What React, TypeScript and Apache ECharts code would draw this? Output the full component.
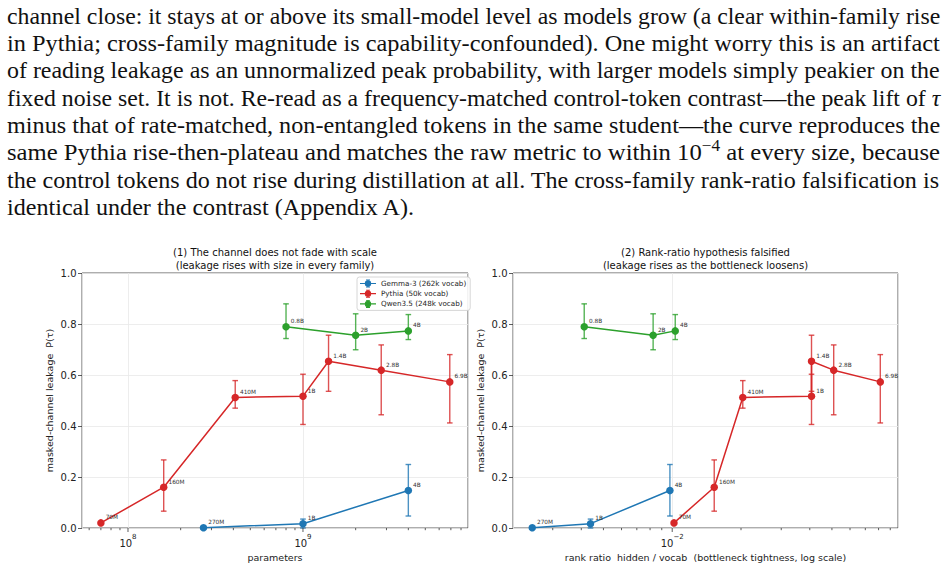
import React, { useEffect, useRef } from 'react';
import * as echarts from 'echarts';

// ---------- paragraph text (segments: n = normal, i = italic, s = superscript) ----------
const paragraphLines: { t: string; k: string }[][] = [
  [{ t: 'channel close: it stays at or above its small-model level as models grow (a clear within-family rise', k: 'n' }],
  [{ t: 'in Pythia; cross-family magnitude is capability-confounded). One might worry this is an artifact', k: 'n' }],
  [{ t: 'of reading leakage as an unnormalized peak probability, with larger models simply peakier on the', k: 'n' }],
  [{ t: 'fixed noise set. It is not. Re-read as a frequency-matched control-token contrast\u2014the peak lift of ', k: 'n' }, { t: '\u03c4', k: 'i' }],
  [{ t: 'minus that of rate-matched, non-entangled tokens in the same student\u2014the curve reproduces the', k: 'n' }],
  [{ t: 'same Pythia rise-then-plateau and matches the raw metric to within 10', k: 'n' }, { t: '\u22124', k: 's' }, { t: ' at every size, because', k: 'n' }],
  [{ t: 'the control tokens do not rise during distillation at all. The cross-family rank-ratio falsification is', k: 'n' }],
  [{ t: 'identical under the contrast (Appendix A).', k: 'n' }],
];

// ---------- chart data ----------
const gemmaName = 'Gemma-3 (262k vocab)';
const pythiaName = 'Pythia (50k vocab)';
const qwenName = 'Qwen3.5 (248k vocab)';

const gemmaSizes = ['270M', '1B', '4B'];
const gemmaParams = [2.7e8, 1.0e9, 4.0e9];
const gemmaRatio = [0.00244, 0.00439, 0.00977];
const gemmaLeak = [0.001, 0.017, 0.147];
const gemmaLo: (number | null)[] = [null, 0.0, 0.047];
const gemmaHi: (number | null)[] = [null, 0.035, 0.249];

const pythiaSizes = ['70M', '160M', '410M', '1B', '1.4B', '2.8B', '6.9B'];
const pythiaParams = [7.0e7, 1.6e8, 4.1e8, 1.0e9, 1.4e9, 2.8e9, 6.9e9];
const pythiaRatio = [0.01018, 0.01527, 0.02036, 0.0407, 0.0407, 0.0509, 0.0814];
const pythiaLeak = [0.02, 0.16, 0.512, 0.517, 0.654, 0.619, 0.573];
const pythiaLo: (number | null)[] = [null, 0.066, 0.47, 0.406, 0.536, 0.444, 0.412];
const pythiaHi: (number | null)[] = [null, 0.267, 0.578, 0.603, 0.756, 0.718, 0.68];

const qwenSizes = ['0.8B', '2B', '4B'];
const qwenParams = [0.8e9, 2.0e9, 4.0e9];
const qwenRatio = [0.00412, 0.00825, 0.01031];
const qwenLeak = [0.789, 0.756, 0.773];
const qwenLo: (number | null)[] = [0.743, 0.699, 0.739];
const qwenHi: (number | null)[] = [0.879, 0.84, 0.837];

// axis ticks (log axes)
const paramsMajorTicks = [1e8, 1e9];
const paramsMinorTicks = [6e7, 7e7, 8e7, 9e7, 2e8, 3e8, 4e8, 5e8, 6e8, 7e8, 8e8, 9e8, 2e9, 3e9, 4e9, 5e9, 6e9, 7e9, 8e9];
const ratioMajorTicks = [1e-2];
const ratioMinorTicks = [3e-3, 4e-3, 5e-3, 6e-3, 7e-3, 8e-3, 9e-3, 2e-2, 3e-2, 4e-2, 5e-2, 6e-2, 7e-2, 8e-2, 9e-2];

const FONT = 'DejaVu Sans';
const SERIF = 'Liberation Serif';
const C_G = '#1f77b4';
const C_P = '#d62728';
const C_Q = '#2ca02c';
const E_G = 'rgba(31,119,180,0.8)';
const E_P = 'rgba(214,39,40,0.8)';
const E_Q = 'rgba(44,160,44,0.8)';

const LEGEND_ICON =
  'path://M0,3.4H16V4.6H0Z M7.4,0H8.6V8H7.4Z M6,0H10V0.8H6Z M6,7.2H10V8H6Z M11.2,4A3.2,3.2 0 1 1 4.8,4A3.2,3.2 0 1 1 11.2,4Z';

function ptData(xs: number[], ys: number[], names: string[]) {
  return xs.map((x, i) => ({ name: names[i], value: [x, ys[i]] }));
}
function errData(xs: number[], lo: (number | null)[], hi: (number | null)[]) {
  const out: number[][] = [];
  xs.forEach((x, i) => {
    if (lo[i] != null && hi[i] != null) out.push([x, lo[i] as number, hi[i] as number]);
  });
  return out;
}
function tickData(major: number[], minor: number[]) {
  return [...major.map((v) => [v, 0, 4]), ...minor.map((v) => [v, 0, 2.2])];
}

const errRender = (color: string) => (params: any, api: any) => {
  const x = api.value(0);
  const a = api.coord([x, api.value(1)]);
  const b = api.coord([x, api.value(2)]);
  const cap = 2.8;
  const style = { stroke: color, lineWidth: 1.4, fill: null };
  return {
    type: 'group',
    children: [
      { type: 'line', shape: { x1: a[0], y1: a[1], x2: b[0], y2: b[1] }, style },
      { type: 'line', shape: { x1: a[0] - cap, y1: a[1], x2: a[0] + cap, y2: a[1] }, style },
      { type: 'line', shape: { x1: b[0] - cap, y1: b[1], x2: b[0] + cap, y2: b[1] }, style },
    ],
  };
};

const tickRender = (params: any, api: any) => {
  const p = api.coord([api.value(0), 0]);
  const len = api.value(2);
  return {
    type: 'line',
    shape: { x1: p[0], y1: p[1], x2: p[0], y2: p[1] + len },
    style: { stroke: '#333', lineWidth: 0.8 },
  };
};

function logLabel(v: number) {
  const e = Math.log10(v);
  const r = Math.round(e);
  if (Math.abs(e - r) > 1e-6) return '';
  const exp = r < 0 ? '\u2212' + Math.abs(r) : String(r);
  return '{b|10}{s|' + exp + '}';
}

const logRich = {
  b: { fontSize: 10, fontFamily: FONT, color: '#222', lineHeight: 15, verticalAlign: 'bottom' },
  s: { fontSize: 7, fontFamily: FONT, color: '#222', lineHeight: 8, verticalAlign: 'top' },
};

function buildOption() {
  // paragraph measurement
  const canvas = document.createElement('canvas');
  const ctx = canvas.getContext('2d') as CanvasRenderingContext2D;
  const PSIZE = 22.6;
  const fontOf = (k: string) =>
    k === 'i' ? `italic ${PSIZE}px "${SERIF}"` : k === 's' ? `${PSIZE * 0.7}px "${SERIF}"` : `${PSIZE}px "${SERIF}"`;
  const LEFT = 7;
  const RIGHT = 940;
  const lineY0 = 14.6;
  const lineStep = 27.3;
  const paragraphGraphics: any[] = [];
  let scaleSum = 0;
  const scales: number[] = [];
  paragraphLines.forEach((segs) => {
    let w = 0;
    segs.forEach((s) => {
      ctx.font = fontOf(s.k);
      w += ctx.measureText(s.t).width;
    });
    scales.push((RIGHT - LEFT) / w);
  });
  for (let i = 0; i < scales.length - 1; i++) scaleSum += scales[i];
  const avgScale = scaleSum / (scales.length - 1);
  paragraphLines.forEach((segs, i) => {
    const text = segs.map((s) => `{${s.k}|${s.t}}`).join('');
    const sx = i === paragraphLines.length - 1 ? avgScale : scales[i];
    paragraphGraphics.push({
      type: 'text',
      x: LEFT,
      y: lineY0 + i * lineStep,
      scaleX: sx,
      silent: true,
      style: {
        text,
        align: 'left',
        verticalAlign: 'middle',
        rich: {
          n: { fontFamily: SERIF, fontSize: PSIZE, fill: '#111', lineHeight: 26, verticalAlign: 'bottom' },
          i: { fontFamily: SERIF, fontSize: PSIZE, fontStyle: 'italic', fill: '#111', lineHeight: 26, verticalAlign: 'bottom' },
          s: { fontFamily: SERIF, fontSize: PSIZE * 0.7, fill: '#111', lineHeight: 14, verticalAlign: 'top' },
        },
      },
    });
  });

  const titleStyle = (t: string) => ({
    text: t,
    align: 'center',
    verticalAlign: 'middle',
    fontFamily: FONT,
    fontSize: 10,
    fill: '#111',
  });

  const grids = [
    { left: 82, top: 273, width: 386, height: 255 },
    { left: 513, top: 273, width: 385, height: 255 },
  ];

  const splitLine = { show: true, lineStyle: { color: '#e9e9e9', width: 0.8 } };
  const yAxisBase = (gi: number) => ({
    type: 'value',
    gridIndex: gi,
    min: 0,
    max: 1,
    interval: 0.2,
    axisLine: { show: false },
    axisTick: { show: true, length: 4, lineStyle: { color: '#333', width: 0.8 } },
    axisLabel: { formatter: (v: number) => v.toFixed(1), fontSize: 10, fontFamily: FONT, color: '#222', margin: 5.5 },
    splitLine,
    name: 'masked-channel leakage  P(\u03c4)',
    nameLocation: 'middle',
    nameGap: 27.5,
    nameTextStyle: { fontSize: 9.5, fontFamily: FONT, color: '#222' },
  });
  const xAxisBase = (gi: number, min: number, max: number, name: string) => ({
    type: 'log',
    logBase: 10,
    gridIndex: gi,
    min,
    max,
    axisLine: { show: false },
    axisTick: { show: false },
    axisLabel: { formatter: logLabel, rich: logRich, margin: 5, showMinLabel: true, showMaxLabel: true },
    splitLine,
    name,
    nameLocation: 'middle',
    nameGap: 24.5,
    nameTextStyle: { fontSize: 9.5, fontFamily: FONT, color: '#222' },
  });

  const lineSeries = (name: string, gi: number, xs: number[], ys: number[], names: string[], color: string) => ({
    type: 'line',
    name,
    xAxisIndex: gi,
    yAxisIndex: gi,
    data: ptData(xs, ys, names),
    symbol: 'circle',
    symbolSize: 7.5,
    showAllSymbol: true,
    lineStyle: { color, width: 1.5 },
    itemStyle: { color, borderWidth: 0 },
    label: {
      show: true,
      position: 'right',
      distance: 1,
      offset: [0, -5.5],
      formatter: '{b}',
      fontSize: 5.8,
      fontFamily: FONT,
      color: '#333',
    },
    emphasis: { disabled: true },
    silent: true,
    z: 3,
  });
  const errSeries = (name: string, gi: number, xs: number[], lo: (number | null)[], hi: (number | null)[], color: string) => ({
    type: 'custom',
    name: name + ' error',
    xAxisIndex: gi,
    yAxisIndex: gi,
    data: errData(xs, lo, hi),
    encode: { x: 0, y: [1, 2] },
    renderItem: errRender(color),
    silent: true,
    z: 2,
  });
  const tickSeries = (gi: number, major: number[], minor: number[]) => ({
    type: 'custom',
    name: 'ticks' + gi,
    xAxisIndex: gi,
    yAxisIndex: gi,
    data: tickData(major, minor),
    encode: { x: 0, y: 1 },
    renderItem: tickRender,
    clip: false,
    silent: true,
    z: 4,
  });

  return {
    animation: false,
    backgroundColor: '#ffffff',
    textStyle: { fontFamily: FONT },
    grid: grids.map((g) => ({ ...g, show: true, borderColor: '#333', borderWidth: 0.8, backgroundColor: 'transparent', containLabel: false })),
    xAxis: [
      xAxisBase(0, 5.46e7, 8.77e9, 'parameters'),
      xAxisBase(1, 0.00201, 0.0973, 'rank ratio  hidden / vocab  (bottleneck tightness, log scale)'),
    ],
    yAxis: [yAxisBase(0), yAxisBase(1)],
    legend: {
      data: [gemmaName, pythiaName, qwenName],
      left: 357,
      top: 277,
      orient: 'vertical',
      itemWidth: 16,
      itemHeight: 8,
      itemGap: 2.2,
      padding: [2.5, 4, 2.5, 3],
      icon: LEGEND_ICON,
      itemStyle: { borderWidth: 0 },
      textStyle: { fontSize: 7.2, fontFamily: FONT, color: '#222' },
      borderColor: '#cccccc',
      borderWidth: 0.8,
      borderRadius: 2.5,
      backgroundColor: 'rgba(255,255,255,0.85)',
      selectedMode: false,
    },
    graphic: [
      ...paragraphGraphics,
      { type: 'text', x: 275, y: 252, silent: true, style: titleStyle('(1) The channel does not fade with scale') },
      { type: 'text', x: 275, y: 265, silent: true, style: titleStyle('(leakage rises with size in every family)') },
      { type: 'text', x: 705.5, y: 252, silent: true, style: titleStyle('(2) Rank-ratio hypothesis falsified') },
      { type: 'text', x: 705.5, y: 265, silent: true, style: titleStyle('(leakage rises as the bottleneck loosens)') },
    ],
    series: [
      errSeries(gemmaName, 0, gemmaParams, gemmaLo, gemmaHi, E_G),
      errSeries(pythiaName, 0, pythiaParams, pythiaLo, pythiaHi, E_P),
      errSeries(qwenName, 0, qwenParams, qwenLo, qwenHi, E_Q),
      lineSeries(gemmaName, 0, gemmaParams, gemmaLeak, gemmaSizes, C_G),
      lineSeries(pythiaName, 0, pythiaParams, pythiaLeak, pythiaSizes, C_P),
      lineSeries(qwenName, 0, qwenParams, qwenLeak, qwenSizes, C_Q),
      errSeries(gemmaName, 1, gemmaRatio, gemmaLo, gemmaHi, E_G),
      errSeries(pythiaName, 1, pythiaRatio, pythiaLo, pythiaHi, E_P),
      errSeries(qwenName, 1, qwenRatio, qwenLo, qwenHi, E_Q),
      lineSeries(gemmaName, 1, gemmaRatio, gemmaLeak, gemmaSizes, C_G),
      lineSeries(pythiaName, 1, pythiaRatio, pythiaLeak, pythiaSizes, C_P),
      lineSeries(qwenName, 1, qwenRatio, qwenLeak, qwenSizes, C_Q),
      tickSeries(0, paramsMajorTicks, paramsMinorTicks),
      tickSeries(1, ratioMajorTicks, ratioMinorTicks),
    ],
  };
}

export default function App() {
  const ref = useRef<HTMLDivElement>(null);
  useEffect(() => {
    if (!ref.current) return;
    const chart = echarts.init(ref.current, null, { renderer: 'svg' });
    chart.setOption(buildOption() as any);
    return () => chart.dispose();
  }, []);
  return (
    <div
      ref={ref}
      style={{ position: 'absolute', left: 0, top: 0, width: 947, height: 566, background: '#fff' }}
    />
  );
}
